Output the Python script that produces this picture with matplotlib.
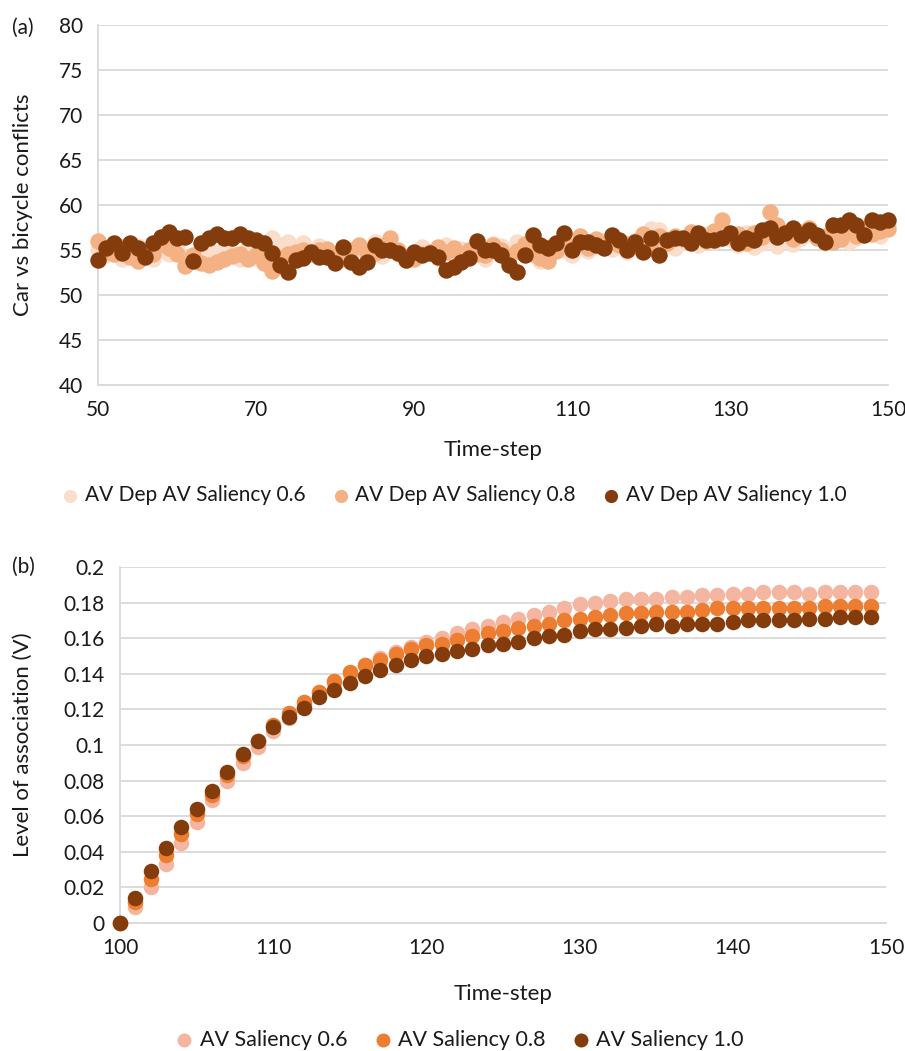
import matplotlib
matplotlib.use("Agg")
import matplotlib.pyplot as plt
import numpy as np

plt.rcParams['font.family'] = ['Lato', 'DejaVu Sans']

# ---- Panel (a) data ----
t_a = list(range(50, 151))
conf_06 = [55.0, 54.4, 55.2, 54.0, 54.8, 55.4, 54.3, 54.0, 55.1, 54.5,
           55.6, 54.2, 53.9, 54.6, 55.0, 54.4, 55.2, 54.7, 54.0, 55.3,
           54.1, 55.0, 56.3, 55.6, 55.9, 55.2, 55.8, 54.9, 55.4, 54.6,
           54.2, 55.1, 54.5, 55.4, 54.8, 55.9, 54.3, 55.0, 54.6, 53.9,
           54.5, 55.3, 54.8, 54.1, 55.6, 54.3, 55.1, 54.7, 55.3, 54.0,
           55.7, 55.4, 54.8, 55.9, 55.2, 54.5, 53.8, 54.6, 55.5, 55.0,
           54.4, 55.8, 54.9, 55.4, 56.0, 55.1, 55.6, 54.8, 55.3, 56.1,
           57.3, 57.2, 55.7, 55.2, 56.0, 56.4, 55.5, 56.8, 55.9, 56.5,
           56.2, 55.6, 56.9, 55.3, 55.8, 56.2, 55.4, 56.1, 55.7, 56.3,
           56.9, 56.4, 55.8, 56.0, 56.5, 55.9, 56.3, 57.4, 57.0, 56.6,
           57.8]
conf_08 = [56.0, 54.8, 54.6, 55.3, 54.2, 53.8, 54.5, 54.6, 55.7, 55.2,
           54.6, 53.2, 54.4, 53.6, 53.3, 53.7, 54.0, 54.3, 54.6, 54.0,
           54.4, 53.5, 52.7, 54.1, 54.5, 54.8, 55.0, 54.6, 55.0, 55.1,
           54.6, 54.0, 55.0, 55.6, 54.5, 54.7, 55.4, 56.3, 55.0, 54.2,
           54.0, 54.6, 54.8, 55.3, 54.8, 55.2, 54.1, 55.0, 54.6, 54.4,
           55.6, 55.0, 54.2, 54.9, 55.7, 54.6, 54.1, 53.8, 54.9, 55.8,
           55.4, 56.5, 55.2, 56.2, 55.6, 55.9, 55.5, 55.7, 56.0, 56.8,
           55.2, 56.5, 55.8, 56.6, 56.2, 57.0, 56.4, 56.0, 57.1, 58.3,
           56.5, 56.8, 55.8, 56.9, 56.4, 59.2, 57.8, 56.9, 56.2, 57.0,
           57.4, 56.3, 56.5, 55.9, 56.2, 57.0, 56.6, 57.3, 56.8, 57.1,
           57.3]
conf_10 = [53.9, 55.2, 55.8, 54.7, 55.8, 55.2, 54.2, 55.8, 56.4, 57.0,
           56.3, 56.4, 53.8, 55.8, 56.3, 56.8, 56.3, 56.3, 56.8, 56.3,
           56.1, 55.8, 54.7, 53.3, 52.6, 53.9, 54.1, 54.8, 54.2, 54.2,
           53.5, 55.3, 53.7, 53.1, 53.7, 55.6, 55.0, 55.0, 54.7, 53.9,
           54.8, 54.4, 54.7, 54.2, 52.8, 53.1, 53.7, 54.1, 56.0, 55.0,
           55.0, 54.4, 53.3, 52.6, 54.4, 56.7, 55.6, 55.2, 55.8, 56.9,
           55.0, 55.9, 55.9, 55.6, 55.2, 56.7, 56.1, 55.0, 55.9, 54.8,
           56.3, 54.4, 56.1, 56.3, 56.3, 55.8, 56.9, 56.1, 56.1, 56.3,
           56.9, 55.8, 56.3, 56.1, 57.2, 57.4, 56.4, 56.9, 57.4, 56.7,
           57.2, 56.7, 55.9, 57.8, 57.8, 58.3, 57.8, 56.7, 58.3, 58.1,
           58.3]
labels_a = ["AV Dep AV Saliency 0.6", "AV Dep AV Saliency 0.8", "AV Dep AV Saliency 1.0"]
colors_a = ["#FADDCB", "#F4B183", "#843C0C"]

# ---- Panel (b) data ----
t_b = list(range(100, 150))
assoc_06 = [0.000, 0.009, 0.020, 0.033, 0.045, 0.057, 0.069, 0.080, 0.090, 0.099,
            0.108, 0.115, 0.122, 0.129, 0.135, 0.140, 0.145, 0.149, 0.152, 0.155,
            0.158, 0.160, 0.163, 0.165, 0.167, 0.169, 0.171, 0.173, 0.175, 0.177,
            0.179, 0.180, 0.181, 0.182, 0.182, 0.182, 0.183, 0.183, 0.184, 0.184,
            0.185, 0.185, 0.186, 0.186, 0.186, 0.185, 0.186, 0.186, 0.186, 0.186]
assoc_08 = [0.000, 0.012, 0.025, 0.038, 0.050, 0.061, 0.072, 0.083, 0.094, 0.102,
            0.111, 0.118, 0.124, 0.130, 0.136, 0.141, 0.145, 0.148, 0.151, 0.154,
            0.156, 0.157, 0.159, 0.161, 0.163, 0.164, 0.166, 0.167, 0.168, 0.170,
            0.171, 0.172, 0.173, 0.174, 0.174, 0.175, 0.175, 0.175, 0.176, 0.177,
            0.177, 0.177, 0.177, 0.177, 0.177, 0.177, 0.178, 0.178, 0.178, 0.178]
assoc_10 = [0.000, 0.014, 0.029, 0.042, 0.054, 0.064, 0.074, 0.085, 0.095, 0.102,
            0.110, 0.116, 0.121, 0.127, 0.131, 0.135, 0.139, 0.142, 0.145, 0.148,
            0.150, 0.151, 0.153, 0.154, 0.156, 0.157, 0.158, 0.160, 0.161, 0.162,
            0.164, 0.165, 0.165, 0.166, 0.167, 0.168, 0.167, 0.168, 0.168, 0.168,
            0.169, 0.170, 0.170, 0.170, 0.170, 0.171, 0.171, 0.172, 0.172, 0.172]
labels_b = ["AV Saliency 0.6", "AV Saliency 0.8", "AV Saliency 1.0"]
colors_b = ["#F4B6A0", "#ED7D31", "#843C0C"]

W, H = 905, 1051
fig = plt.figure(figsize=(W / 100, H / 100), dpi=100)

grid_c = "#D9D9D9"
txt_c = "#1a1a1a"
fs_tick = 15
fs_lab = 16

def style(ax):
    ax.grid(axis="y", color=grid_c, linewidth=1.3)
    ax.set_axisbelow(True)
    for s in ["top", "right"]:
        ax.spines[s].set_visible(False)
    for s in ["left", "bottom"]:
        ax.spines[s].set_color(grid_c)
        ax.spines[s].set_linewidth(1.3)
    ax.tick_params(length=0, labelsize=fs_tick, colors=txt_c)
    ax.tick_params(axis="y", pad=11)
    ax.tick_params(axis="x", pad=11)

# ---- Panel (a) ----
ax1 = fig.add_axes([98 / W, 1 - 385 / H, (888 - 98) / W, 360 / H])
for y, c, lab in zip([conf_06, conf_08, conf_10], colors_a, labels_a):
    ax1.scatter(t_a, y, s=140, color=c, label=lab, clip_on=False, linewidths=0, zorder=3)
ax1.set_xlim(50, 150)
ax1.set_ylim(40, 80)
ax1.set_xticks(range(50, 151, 20))
ax1.set_yticks(range(40, 81, 5))
style(ax1)
ax1.set_xlabel("Time-step", fontsize=fs_lab, color=txt_c)
ax1.set_ylabel("Car vs bicycle conflicts", fontsize=fs_lab, color=txt_c)
ax1.xaxis.set_label_coords(0.5, (385 - 440) / 360)
ax1.yaxis.set_label_coords((33 - 98) / 790, 0.5)
fig.legend(*ax1.get_legend_handles_labels(), loc="center", bbox_to_anchor=(0.503, 1 - 495 / H),
           ncol=3, frameon=False, fontsize=15, handlelength=0.6, handletextpad=0.4,
           columnspacing=1.4, markerscale=0.8, labelcolor=txt_c)
fig.text(12 / W, 1 - 28 / H, "(a)", fontsize=15, color=txt_c, va="center")

# ---- Panel (b) ----
ax2 = fig.add_axes([120 / W, 1 - 923 / H, (886 - 120) / W, (923 - 567) / H])
for y, c, lab in zip([assoc_06, assoc_08, assoc_10], colors_b, labels_b):
    ax2.scatter(t_b, y, s=125, color=c, label=lab, clip_on=False, linewidths=0, zorder=3)
ax2.set_xlim(100, 150)
ax2.set_ylim(0, 0.2)
ax2.set_xticks(range(100, 151, 10))
yt = np.round(np.arange(0, 0.2001, 0.02), 2)
ax2.set_yticks(yt)
ax2.set_yticklabels([("%g" % v) for v in yt])
style(ax2)
ax2.set_xlabel("Time-step", fontsize=fs_lab, color=txt_c)
ax2.set_ylabel("Level of association (V)", fontsize=fs_lab, color=txt_c)
ax2.xaxis.set_label_coords(0.5, (923 - 984) / 356)
ax2.yaxis.set_label_coords((33 - 120) / 766, 0.5)
fig.legend(*ax2.get_legend_handles_labels(), loc="center", bbox_to_anchor=(0.509, 1 - 1040 / H),
           ncol=3, frameon=False, fontsize=15.5, handlelength=0.6, handletextpad=0.4,
           columnspacing=1.35, markerscale=0.9, labelcolor=txt_c)
fig.text(12 / W, 1 - 567 / H, "(b)", fontsize=15, color=txt_c, va="center")

fig.savefig("out.png", dpi=100)
